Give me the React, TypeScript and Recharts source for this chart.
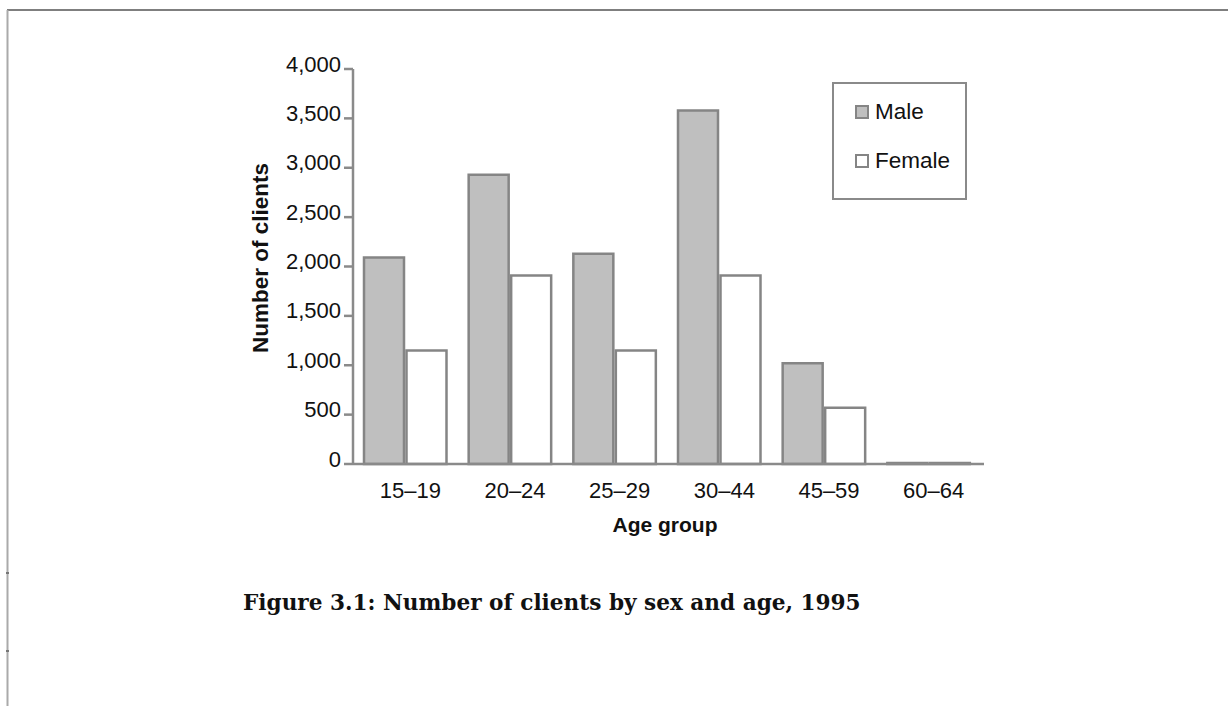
import React from 'react';
import { BarChart, Bar, XAxis, YAxis, Legend } from 'recharts';

const ageGroups = ['15–19', '20–24', '25–29', '30–44', '45–59', '60–64'];
const maleClients = [2090, 2930, 2130, 3580, 1020, 10];
const femaleClients = [1150, 1910, 1150, 1910, 570, 10];
const yTicks = [0, 500, 1000, 1500, 2000, 2500, 3000, 3500, 4000];
const seriesOrder = ['Male', 'Female'];

const data = ageGroups.map((g, i) => ({ group: g, Male: maleClients[i], Female: femaleClients[i] }));

const SANS = "'Liberation Sans', Arial, Helvetica, sans-serif";
const AXIS_GREY = '#8a8a8a';
const BAR_STROKE = '#858585';
const FS = 22;

const YTick = (props: any) => {
  const { x, y, payload } = props;
  return (
    <text x={x} y={y + 2.5} textAnchor="end" fontFamily={SANS} fontSize={FS} fill="#111">
      {Number(payload.value).toLocaleString('en-US')}
    </text>
  );
};

const XTick = (props: any) => {
  const { x, y, payload } = props;
  return (
    <text x={x + 5} y={y + 34} textAnchor="middle" fontFamily={SANS} fontSize={FS} fill="#111">
      {payload.value}
    </text>
  );
};

const LegendBox = (props: any) => {
  const items = ((props.payload || []) as any[])
    .slice()
    .sort((a, b) => seriesOrder.indexOf(a.value) - seriesOrder.indexOf(b.value));
  return (
    <div
      style={{
        position: 'relative',
        boxSizing: 'border-box',
        width: 135,
        height: 118,
        border: `2.5px solid ${AXIS_GREY}`,
        background: '#fff',
      }}
    >
      {items.map((it: any, i: number) => (
        <div
          key={it.value}
          style={{
            position: 'absolute',
            left: 21,
            top: 21 + i * 49,
            height: 14,
            display: 'flex',
            alignItems: 'center',
            whiteSpace: 'nowrap',
          }}
        >
          <div
            style={{
              boxSizing: 'border-box',
              width: 14,
              height: 14,
              border: `2.5px solid ${BAR_STROKE}`,
              background: it.value === 'Male' ? '#bfbfbf' : '#ffffff',
            }}
          />
          <span style={{ marginLeft: 6, fontFamily: SANS, fontSize: FS + 0.5, lineHeight: 1, color: '#111' }}>
            {it.value}
          </span>
        </div>
      ))}
    </div>
  );
};

export default function App() {
  return (
    <div style={{ position: 'absolute', left: 0, top: 0, width: 1228, height: 706, background: '#fff' }}>
      <svg
        width={1228}
        height={706}
        style={{ position: 'absolute', left: 0, top: 0 }}
      >
        <line x1={7} y1={10} x2={1228} y2={10} stroke="#555" strokeWidth={1.5} />
        <line x1={7.5} y1={10} x2={7.5} y2={706} stroke="#aaa" strokeWidth={2} />
        <rect x={6} y={572} width={3} height={2} fill="#777" />
        <rect x={6} y={650} width={3} height={2} fill="#777" />
        <text
          x={268}
          y={258}
          transform="rotate(-90 268 258)"
          textAnchor="middle"
          fontFamily={SANS}
          fontWeight="bold"
          fontSize={22.5}
          fill="#111"
        >
          Number of clients
        </text>
        <text x={665} y={532} textAnchor="middle" fontFamily={SANS} fontWeight="bold" fontSize={21} fill="#111">
          Age group
        </text>
        <text x={243} y={610} fontFamily="'DejaVu Serif', serif" fontWeight="bold" fontSize={21.6} fill="#111">
          Figure 3.1: Number of clients by sex and age, 1995
        </text>
      </svg>
      <div style={{ position: 'absolute', left: 0, top: 0 }}>
        <BarChart
          width={1228}
          height={706}
          data={data}
          margin={{ top: 69, right: 244, bottom: 202, left: 263 }}
          barSize={40}
          barGap={2.5}
        >
          <XAxis
            dataKey="group"
            height={40}
            tickLine={false}
            tickSize={0}
            tickMargin={0}
            padding={{ left: 0, right: 3 }}
            axisLine={{ stroke: AXIS_GREY, strokeWidth: 2.5 }}
            tick={<XTick />}
            interval={0}
          />
          <YAxis
            width={90}
            domain={[0, 4000]}
            ticks={yTicks}
            interval={0}
            tickSize={9}
            tickMargin={3}
            axisLine={{ stroke: AXIS_GREY, strokeWidth: 2.5 }}
            tickLine={{ stroke: AXIS_GREY, strokeWidth: 2.5 }}
            tick={<YTick />}
          />
          <Legend
            layout="horizontal"
            verticalAlign="middle"
            align="center"
            content={<LegendBox />}
            wrapperStyle={{ left: 832, top: 82, width: 135, height: 118 }}
          />
          <Bar dataKey="Male" fill="#bfbfbf" stroke={BAR_STROKE} strokeWidth={2.5} isAnimationActive={false} />
          <Bar dataKey="Female" fill="#ffffff" stroke={BAR_STROKE} strokeWidth={2.5} isAnimationActive={false} />
        </BarChart>
      </div>
    </div>
  );
}
